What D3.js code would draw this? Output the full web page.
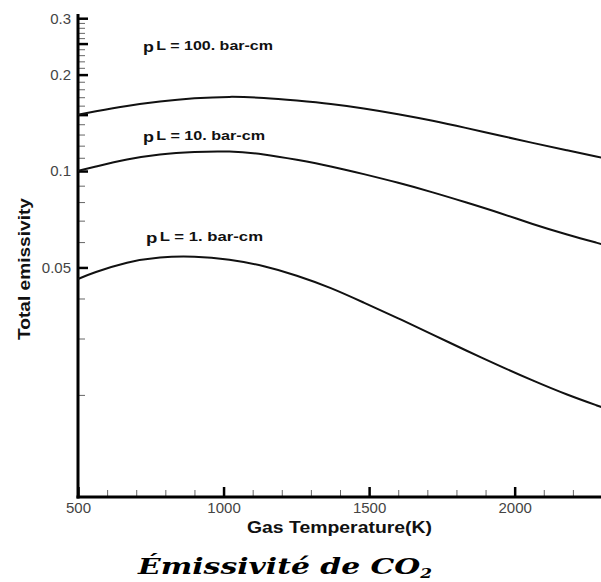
<!DOCTYPE html>
<html>
<head>
<meta charset="utf-8">
<script src="https://cdn.jsdelivr.net/npm/d3@7"></script>
<style>
  html, body { margin: 0; padding: 0; background: #fff; }
  svg { display: block; }
</style>
</head>
<body>
<svg id="chart" width="601" height="582"></svg>
<script>
// ---- Data ----
const temperatures = [500, 550, 670, 780, 900, 1020, 1140, 1250, 1370, 1480, 1600, 1720, 1830, 1950, 2060, 2180, 2300];
const emissPL100 = [0.150, 0.153, 0.160, 0.165, 0.169, 0.171, 0.1695, 0.166, 0.162, 0.157, 0.1505, 0.1435, 0.1365, 0.129, 0.1225, 0.116, 0.110];
const emissPL10  = [0.1002, 0.1027, 0.109, 0.113, 0.1149, 0.1155, 0.113, 0.1085, 0.1035, 0.0979, 0.0920, 0.0858, 0.0800, 0.0740, 0.0683, 0.0633, 0.0591];
const emissPL1   = [0.0460, 0.0481, 0.0521, 0.0540, 0.0543, 0.0530, 0.0506, 0.0473, 0.0432, 0.0389, 0.0347, 0.0308, 0.0276, 0.0246, 0.0222, 0.0200, 0.0183];
const seriesLabels = ["pL = 100. bar-cm", "pL = 10. bar-cm", "pL = 1. bar-cm"];
const xMajorTicks = [500, 1000, 1500, 2000];
const xMinorTicks = [600, 700, 800, 900, 1100, 1200, 1300, 1400, 1600, 1700, 1800, 1900, 2100, 2200];
const yLabelTicks = [0.05, 0.1, 0.2, 0.3];
const yLabelText  = ["0.05", "0.1", "0.2", "0.3"];
const yMajorUnlabeled = [0.15, 0.25];
const yMinorTicks = [0.02, 0.03, 0.04, 0.06, 0.07, 0.08, 0.09, 0.11, 0.12, 0.13, 0.14, 0.16, 0.17, 0.18, 0.19, 0.21, 0.22, 0.23, 0.24, 0.26, 0.27, 0.28, 0.29];
const xTitle = "Gas Temperature(K)";
const yTitle = "Total emissivity";
const chartTitle = "Émissivité de CO";
const chartTitleSub = "2";

// ---- Layout ----
const svg = d3.select("#chart");
const mLeft = 78, mRight = 602, mTop = 15, mBottom = 497;

const x = d3.scaleLinear().domain([500, 2300]).range([mLeft, mRight]);
const y = d3.scaleLog().domain([0.0096, 0.307]).range([mBottom, mTop]);

const fontSans = "'Liberation Sans', Arial, Helvetica, sans-serif";

// Minor x ticks
svg.append("g").attr("transform", `translate(0,${mBottom})`)
  .call(d3.axisBottom(x).tickValues(xMinorTicks).tickSizeInner(-7).tickSizeOuter(0).tickFormat(""))
  .call(g => g.select(".domain").remove())
  .call(g => g.selectAll(".tick line").attr("stroke", "#666").attr("stroke-width", 1));

// Major x ticks + labels
svg.append("g").attr("transform", `translate(0,${mBottom})`)
  .call(d3.axisBottom(x).tickValues(xMajorTicks).tickSizeInner(-10).tickSizeOuter(0).tickPadding(5).tickFormat(d3.format("d")))
  .call(g => g.select(".domain").remove())
  .call(g => g.selectAll(".tick line").attr("stroke", "#000").attr("stroke-width", 2.5))
  .call(g => g.selectAll(".tick text").attr("font-family", fontSans).attr("font-size", 15).attr("fill", "#444"));

// Minor y ticks
svg.append("g").attr("transform", `translate(${mLeft},0)`)
  .call(d3.axisLeft(y).tickValues(yMinorTicks).tickSizeInner(-7).tickSizeOuter(0).tickFormat(""))
  .call(g => g.select(".domain").remove())
  .call(g => g.selectAll(".tick line").attr("stroke", "#666").attr("stroke-width", 1));

// Major unlabeled y ticks
svg.append("g").attr("transform", `translate(${mLeft},0)`)
  .call(d3.axisLeft(y).tickValues(yMajorUnlabeled).tickSizeInner(-10).tickSizeOuter(0).tickFormat(""))
  .call(g => g.select(".domain").remove())
  .call(g => g.selectAll(".tick line").attr("stroke", "#000").attr("stroke-width", 2.5));

// Labeled y ticks
svg.append("g").attr("transform", `translate(${mLeft},0)`)
  .call(d3.axisLeft(y).tickValues(yLabelTicks).tickSizeInner(-10).tickSizeOuter(0).tickPadding(7)
        .tickFormat((d, i) => yLabelText[i]))
  .call(g => g.select(".domain").remove())
  .call(g => g.selectAll(".tick line").attr("stroke", "#000").attr("stroke-width", 2.5))
  .call(g => g.selectAll(".tick text").attr("font-family", fontSans).attr("font-size", 15).attr("fill", "#444"));

// Axis lines
svg.append("line").attr("x1", mLeft).attr("x2", mLeft).attr("y1", mTop - 1).attr("y2", mBottom + 1.5)
  .attr("stroke", "#000").attr("stroke-width", 3);
svg.append("line").attr("x1", mLeft - 1.5).attr("x2", 601).attr("y1", mBottom).attr("y2", mBottom)
  .attr("stroke", "#000").attr("stroke-width", 3);

// Curves
const allSeries = [emissPL100, emissPL10, emissPL1];
const line = d3.line()
  .x((d, i) => x(temperatures[i]))
  .y(d => y(d))
  .curve(d3.curveBasis);

svg.append("g").selectAll("path").data(allSeries).join("path")
  .attr("d", d => line(d))
  .attr("fill", "none")
  .attr("stroke", "#111")
  .attr("stroke-width", 2);

// Series labels
const labelPos = [
  { x: 143, y: 50, w: 130 },
  { x: 143, y: 140, w: 122 },
  { x: 146, y: 241, w: 117 }
];
seriesLabels.forEach((txt, i) => {
  const t = svg.append("text")
    .attr("x", labelPos[i].x).attr("y", labelPos[i].y)
    .attr("font-family", fontSans).attr("font-weight", "bold").attr("font-size", 13.5)
    .attr("fill", "#111");
  t.append("tspan").attr("dy", 2).attr("font-size", 15).text(txt.slice(0, 1));
  t.append("tspan").attr("dy", -2).attr("dx", 2).text(txt.slice(1));
  t.attr("textLength", labelPos[i].w).attr("lengthAdjust", "spacingAndGlyphs");
});

// Axis titles
svg.append("text")
  .attr("x", 339.5).attr("y", 533)
  .attr("text-anchor", "middle")
  .attr("font-family", fontSans).attr("font-weight", "bold").attr("font-size", 16.5)
  .attr("fill", "#111")
  .attr("textLength", 185).attr("lengthAdjust", "spacingAndGlyphs")
  .text(xTitle);

svg.append("text")
  .attr("transform", "translate(30,269) rotate(-90)")
  .attr("text-anchor", "middle")
  .attr("font-family", fontSans).attr("font-weight", "bold").attr("font-size", 16)
  .attr("fill", "#111")
  .attr("textLength", 142).attr("lengthAdjust", "spacingAndGlyphs")
  .text(yTitle);

// Chart caption
const cap = svg.append("text")
  .attr("x", 138).attr("y", 574)
  .attr("font-family", "'DejaVu Serif', 'Liberation Serif', serif")
  .attr("font-weight", "bold").attr("font-style", "italic").attr("font-size", 23)
  .attr("fill", "#000");
cap.append("tspan").text(chartTitle);
cap.append("tspan").attr("font-size", 13).attr("dy", 4).text(chartTitleSub);
cap.attr("textLength", 294).attr("lengthAdjust", "spacingAndGlyphs");
</script>
</body>
</html>
